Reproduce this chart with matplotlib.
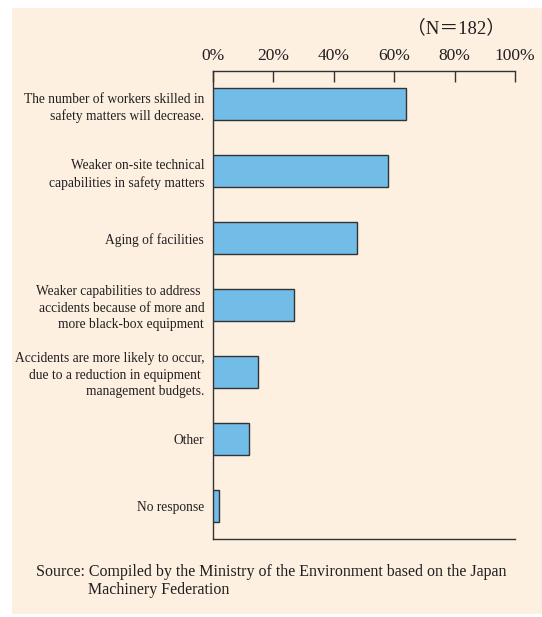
import matplotlib
matplotlib.use("Agg")
import matplotlib.pyplot as plt
import matplotlib.patches as patches
from matplotlib.ticker import FixedLocator

# data
categories = [
    "The number of workers skilled in\nsafety matters will decrease.",
    "Weaker on-site technical\ncapabilities in safety matters",
    "Aging of facilities",
    "Weaker capabilities to address \naccidents because of more and\nmore black-box equipment",
    "Accidents are more likely to occur,\ndue to a reduction in equipment \nmanagement budgets.",
    "Other",
    "No response",
]
values = [64.0, 58.1, 47.9, 27.1, 15.2, 12.2, 2.2]
tick_values = [0, 20, 40, 60, 80, 100]
tick_labels = ["0%", "20%", "40%", "60%", "80%", "100%"]
n_label = "（N＝182）"
source = ("Source: Compiled by the Ministry of the Environment based on the Japan\n"
          "             Machinery Federation")

BG = "#fdf0e1"
BAR = "#72bce8"
TXT = "#231f20"

plt.rcParams["font.family"] = ["Liberation Serif", "Noto Sans CJK JP", "DejaVu Sans"]

W, H = 542, 617
fig = plt.figure(figsize=(W / 100, H / 100), dpi=100)
fig.patch.set_facecolor("white")

# peach panel behind everything
panel = patches.Rectangle((12 / W, 1 - 614 / H), 1 - 12 / W, (614 - 8) / H,
                          transform=fig.transFigure, facecolor=BG, edgecolor="none", zorder=-5)
fig.patches.append(panel)

ax = fig.add_axes([212.5 / W, 1 - 539 / H, (515 - 212.5) / W, (539 - 71) / H])
ax.set_facecolor("none")
ax.set_zorder(2)

ypos = list(range(len(categories)))
ax.barh(ypos, values, height=0.48, color=BAR, edgecolor="#333333", linewidth=1.0, zorder=3)

ax.set_xlim(0, 100)
ax.set_ylim(len(categories) - 0.5, -0.5)

ax.xaxis.set_ticks_position("top")
ax.xaxis.set_major_locator(FixedLocator(tick_values))
ax.set_xticklabels(tick_labels, fontsize=12.5, color=TXT)
ax.tick_params(axis="x", direction="in", length=8, width=1.0, color="#333333", pad=5)

ax.set_yticks(ypos)
ax.set_yticklabels(categories, fontsize=9.75, color=TXT, linespacing=1.34)
ax.tick_params(axis="y", length=0, pad=6)

for side in ["top", "left", "bottom"]:
    ax.spines[side].set_color("#333333")
    ax.spines[side].set_linewidth(1.0)
ax.spines["right"].set_visible(False)

fig.text(505 / W, 1 - 33 / H, n_label, ha="right", va="baseline", fontsize=13.5, color=TXT)
# baseline alignment of multiline text uses the last line
fig.text(36 / W, 1 - 594 / H, source, ha="left", va="baseline", fontsize=11.5,
         color=TXT, linespacing=1.17)

fig.savefig("out.png", dpi=100, facecolor="white")
